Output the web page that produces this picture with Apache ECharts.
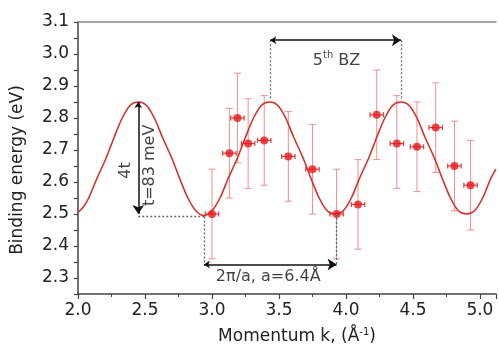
<!DOCTYPE html>
<html>
<head>
<meta charset="utf-8">
<script src="https://cdn.jsdelivr.net/npm/echarts@6/dist/echarts.min.js"></script>
<style>
  html, body { margin: 0; padding: 0; background: #fff; }
  #chart { width: 499px; height: 350px; }
</style>
</head>
<body>
<div id="chart"></div>
<script>
// measured points (momentum, binding energy) with error bars
const kPts = [3.00, 3.13, 3.19, 3.27, 3.39, 3.57, 3.75, 3.93, 4.09, 4.23, 4.38, 4.53, 4.67, 4.81, 4.93];
const ePts = [2.50, 2.69, 2.80, 2.72, 2.73, 2.68, 2.64, 2.50, 2.53, 2.81, 2.72, 2.71, 2.77, 2.65, 2.59];
const eLow = [2.36, 2.55, 2.66, 2.58, 2.59, 2.54, 2.50, 2.36, 2.39, 2.67, 2.58, 2.57, 2.63, 2.51, 2.45];
const eHigh = [2.64, 2.83, 2.94, 2.86, 2.87, 2.82, 2.78, 2.64, 2.67, 2.95, 2.87, 2.85, 2.91, 2.79, 2.73];
const kErr = [0.05, 0.05, 0.05, 0.05, 0.05, 0.05, 0.05, 0.05, 0.05, 0.05, 0.05, 0.05, 0.05, 0.05, 0.05];

// tight-binding curve
const kFit = [2.00, 2.04, 2.08, 2.14, 2.21, 2.27, 2.33, 2.39, 2.45, 2.51, 2.57, 2.63, 2.70, 2.76, 2.82, 2.88,
  2.94, 3.00, 3.06, 3.12, 3.19, 3.25, 3.31, 3.37, 3.43, 3.49, 3.55, 3.61, 3.68, 3.74, 3.80, 3.86,
  3.92, 3.98, 4.04, 4.10, 4.17, 4.23, 4.29, 4.35, 4.41, 4.47, 4.53, 4.59, 4.66, 4.72, 4.78, 4.84,
  4.90, 4.96, 5.02, 5.08, 5.12];
const eFit = [2.505, 2.522, 2.55, 2.61, 2.675, 2.74, 2.80, 2.84, 2.85, 2.84, 2.80, 2.74, 2.675, 2.61, 2.55, 2.51,
  2.495, 2.51, 2.55, 2.61, 2.675, 2.74, 2.80, 2.84, 2.85, 2.84, 2.80, 2.74, 2.675, 2.61, 2.55, 2.51,
  2.50, 2.51, 2.55, 2.61, 2.675, 2.74, 2.80, 2.84, 2.85, 2.84, 2.80, 2.74, 2.675, 2.61, 2.55, 2.51,
  2.50, 2.51, 2.55, 2.61, 2.64];

// annotation arrows and dotted guide lines
const arrowLines = [
  [[2.45, 2.85], [2.45, 2.50]],
  [[2.94, 2.342], [3.93, 2.342]],
  [[3.435, 3.043], [4.41, 3.043]]
];
const dotLines = [
  [[2.45, 2.492], [2.94, 2.492]],
  [[2.94, 2.492], [2.94, 2.342]],
  [[3.93, 2.50], [3.93, 2.342]],
  [[3.435, 3.043], [3.435, 2.86]],
  [[4.41, 3.043], [4.41, 2.86]]
];
const noteK = [2.356, 2.535, 3.93, 3.42];
const noteE = [2.636, 2.652, 2.98, 2.304];
const noteText = ['4t', 't=83 meV', '5{sup|th} BZ', '2π/a, a=6.4Å'];
const noteRotate = [90, 90, 0, 0];

const FONT = 'DejaVu Sans';
const chart = echarts.init(document.getElementById('chart'), null, { renderer: 'canvas' });

const option = {
  backgroundColor: '#fff',
  animation: false,
  grid: { left: 78, right: 0, top: 22, bottom: 56 },
  xAxis: [
    {
      type: 'value',
      min: 2.0,
      max: 5.12,
      interval: 0.5,
      name: '{a|Momentum k, (Å}{s|-1}{a|)}',
      nameLocation: 'middle',
      nameGap: 33,
      nameTextStyle: {
        padding: [0, 0, 0, 20],
        rich: {
          a: { fontFamily: FONT, fontSize: 17, color: '#222' },
          s: { fontFamily: FONT, fontSize: 10, color: '#222', padding: [0, 0, 9, 0] }
        }
      },
      axisLine: { show: true, lineStyle: { color: '#444', width: 1.5 } },
      axisTick: { show: true, length: 5, lineStyle: { color: '#444', width: 1.2 } },
      minorTick: { show: true, splitNumber: 2, length: 3, lineStyle: { color: '#444' } },
      splitLine: { show: false },
      axisLabel: {
        margin: 8,
        fontFamily: FONT,
        fontSize: 17,
        color: '#222',
        formatter: v => (Math.round(v * 100) % 50 === 0 ? v.toFixed(1) : '')
      }
    },
    {
      type: 'value',
      position: 'top',
      min: 2.0,
      max: 5.12,
      axisLine: { show: true, onZero: false, lineStyle: { color: '#888', width: 1.5 } },
      axisTick: { show: false },
      axisLabel: { show: false },
      splitLine: { show: false }
    }
  ],
  yAxis: {
    type: 'value',
    min: 2.25,
    max: 3.1,
    interval: 0.05,
    name: 'Binding energy (eV)',
    nameLocation: 'middle',
    nameGap: 52,
    nameTextStyle: { fontFamily: FONT, fontSize: 17, color: '#222', padding: [0, 24, 0, 0] },
    axisLine: { show: true, lineStyle: { color: '#444', width: 1.5 } },
    axisTick: { show: true, length: 4, lineStyle: { color: '#444', width: 1.2 } },
    splitLine: { show: false },
    axisLabel: {
      margin: 9,
      fontFamily: FONT,
      fontSize: 17,
      color: '#222',
      formatter: v => (Math.round(v * 20) % 2 === 0 ? v.toFixed(1) : '')
    }
  },
  series: [
    {
      name: 'errors',
      type: 'custom',
      z: 1,
      data: kPts.map((k, i) => [k, eLow[i], eHigh[i], ePts[i], kErr[i]]),
      encode: { x: 0, y: [1, 2] },
      renderItem: function (params, api) {
        const k = api.value(0), lo = api.value(1), hi = api.value(2), e = api.value(3), dk = api.value(4);
        const top = api.coord([k, hi]);
        const bot = api.coord([k, lo]);
        const l = api.coord([k - dk, e]);
        const r = api.coord([k + dk, e]);
        const vStyle = { stroke: '#ef8f8f', lineWidth: 1 };
        const hStyle = { stroke: '#e23a3a', lineWidth: 1.2 };
        return {
          type: 'group',
          children: [
            { type: 'line', shape: { x1: top[0], y1: top[1], x2: bot[0], y2: bot[1] }, style: vStyle },
            { type: 'line', shape: { x1: top[0] - 3.5, y1: top[1], x2: top[0] + 3.5, y2: top[1] }, style: vStyle },
            { type: 'line', shape: { x1: bot[0] - 3.5, y1: bot[1], x2: bot[0] + 3.5, y2: bot[1] }, style: vStyle },
            { type: 'line', shape: { x1: l[0], y1: l[1], x2: r[0], y2: r[1] }, style: hStyle },
            { type: 'line', shape: { x1: l[0], y1: l[1] - 2.5, x2: l[0], y2: l[1] + 2.5 }, style: hStyle },
            { type: 'line', shape: { x1: r[0], y1: r[1] - 2.5, x2: r[0], y2: r[1] + 2.5 }, style: hStyle }
          ]
        };
      }
    },
    {
      name: 'fit',
      type: 'line',
      z: 2,
      smooth: 0.3,
      showSymbol: false,
      data: kFit.map((k, i) => [k, eFit[i]]),
      lineStyle: { color: '#d8302c', width: 1.6 }
    },
    {
      name: 'points',
      type: 'scatter',
      z: 3,
      symbolSize: 8,
      data: kPts.map((k, i) => [k, ePts[i]]),
      itemStyle: { color: '#e8171c' }
    },
    {
      name: 'dotted',
      type: 'lines',
      coordinateSystem: 'cartesian2d',
      z: 4,
      symbol: ['none', 'none'],
      data: dotLines.map(c => ({ coords: c })),
      lineStyle: { color: '#666', width: 1.3, type: [2, 2], opacity: 1 }
    },
    {
      name: 'arrows',
      type: 'lines',
      coordinateSystem: 'cartesian2d',
      z: 5,
      symbol: ['arrow', 'arrow'],
      symbolSize: [6, 9],
      data: arrowLines.map(c => ({ coords: c })),
      lineStyle: { color: '#111', width: 1.5, opacity: 1 }
    },
    {
      name: 'notes',
      type: 'scatter',
      z: 6,
      symbolSize: 0,
      silent: true,
      data: noteK.map((k, i) => ({
        value: [k, noteE[i]],
        label: { rotate: noteRotate[i], formatter: noteText[i] }
      })),
      label: {
        show: true,
        position: 'inside',
        fontFamily: FONT,
        fontSize: 16,
        color: '#111',
        rich: {
          sup: { fontFamily: FONT, fontSize: 10, color: '#111', padding: [0, 0, 9, 0] }
        }
      }
    }
  ]
};

chart.setOption(option);
</script>
</body>
</html>
